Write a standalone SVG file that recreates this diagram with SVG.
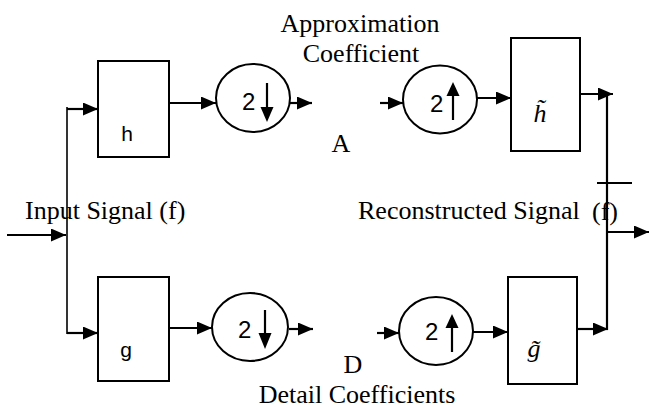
<svg xmlns="http://www.w3.org/2000/svg" width="649" height="410" viewBox="0 0 649 410">
<defs>
<marker id="ah" markerUnits="userSpaceOnUse" markerWidth="15" markerHeight="13" refX="15" refY="6.5" orient="auto">
<path d="M0,0 L15,6.5 L0,13 z" fill="#000"/>
</marker>
<style>
.box{fill:#fff;stroke:#000;stroke-width:2}
.op{fill:#fff;stroke:#000;stroke-width:2}
.c{fill:none;stroke:#000;stroke-width:2.2}
.thin{fill:none;stroke:#000;stroke-width:1.6}
.serif{font-family:"Liberation Serif","Times New Roman",serif;font-size:26px;fill:#000}
.sans{font-family:"Liberation Sans",Arial,sans-serif;fill:#000}
.math{font-family:"Liberation Serif","DejaVu Serif",serif;font-style:italic;font-size:26px;fill:#000}
.tri{fill:#000}
</style>
</defs>
<rect width="649" height="410" fill="#fff"/>

<g id="connectors">
<path class="c" d="M7,235 H66" marker-end="url(#ah)"/>
<path class="thin" d="M67,107 V334"/>
<path class="c" d="M67,109 H98" marker-end="url(#ah)"/>
<path class="c" d="M67,333 H98" marker-end="url(#ah)"/>
<path class="c" d="M169,103 H216" marker-end="url(#ah)"/>
<path class="c" d="M290,103 H312" marker-end="url(#ah)"/>
<path class="c" d="M380,103 H403" marker-end="url(#ah)"/>
<path class="c" d="M477,98 H511" marker-end="url(#ah)"/>
<path class="c" d="M580,94 H613" marker-end="url(#ah)"/>
<path class="c" d="M169,328 H212" marker-end="url(#ah)"/>
<path class="c" d="M289,329 H313" marker-end="url(#ah)"/>
<path class="c" d="M377,333 H399" marker-end="url(#ah)"/>
<path class="c" d="M473,332 H508" marker-end="url(#ah)"/>
<path class="c" d="M577,329 H608" marker-end="url(#ah)"/>
<path class="c" d="M607,94 V330"/>
<path class="c" d="M607,232 H649" marker-end="url(#ah)"/>
</g>

<g id="h">
<rect class="box" x="98" y="61" width="71" height="96"/>
<text class="sans" x="127" y="141" font-size="21" text-anchor="middle">h</text>
</g>
<g id="g">
<rect class="box" x="98" y="277" width="71" height="104"/>
<text class="sans" x="126" y="357" font-size="21" text-anchor="middle">g</text>
</g>

<g id="down-a">
<ellipse class="op" cx="253" cy="98" rx="37" ry="34"/>
<text class="sans" x="242" y="110" font-size="24">2</text>
<path class="c" d="M267,83 V108"/>
<path class="tri" d="M260.5,107 H273.5 L267,122 z"/>
</g>
<g id="down-d">
<ellipse class="op" cx="250" cy="327" rx="38" ry="34"/>
<text class="sans" x="238" y="338" font-size="24">2</text>
<path class="c" d="M265,310 V334"/>
<path class="tri" d="M258.5,333 H271.5 L265,349 z"/>
</g>
<g id="up-a">
<ellipse class="op" cx="440" cy="99.5" rx="37" ry="34"/>
<text class="sans" x="430" y="112" font-size="24">2</text>
<path class="c" d="M453,94 V120"/>
<path class="tri" d="M446.5,96 H459.5 L453,82 z"/>
</g>
<g id="up-d">
<ellipse class="op" cx="436" cy="331" rx="37" ry="34"/>
<text class="sans" x="425" y="340" font-size="24">2</text>
<path class="c" d="M452,326 V352"/>
<path class="tri" d="M445.5,328 H458.5 L452,314 z"/>
</g>

<g id="h-tilde">
<rect class="box" x="511" y="38" width="69" height="113"/>
<text class="math" x="540" y="122" text-anchor="middle">h̃</text>
</g>
<g id="g-tilde">
<rect class="box" x="508" y="277" width="69" height="107"/>
<text class="math" x="534" y="357" text-anchor="middle">g̃</text>
</g>

<g id="labels">
<text class="serif" x="360" y="32" text-anchor="middle">Approximation</text>
<text class="serif" x="361" y="62" text-anchor="middle">Coefficient</text>
<text class="serif" x="341" y="152" text-anchor="middle">A</text>
<text class="serif" x="353" y="373" text-anchor="middle">D</text>
<text class="serif" x="357" y="403" text-anchor="middle">Detail Coefficients</text>
<text class="serif" x="25" y="219">Input Signal (f)</text>
<text class="serif" x="358" y="219">Reconstructed Signal</text>
<text class="serif" x="592" y="220" font-size="34">(f)</text>
<path class="c" d="M597,183 H632"/>
</g>
</svg>
